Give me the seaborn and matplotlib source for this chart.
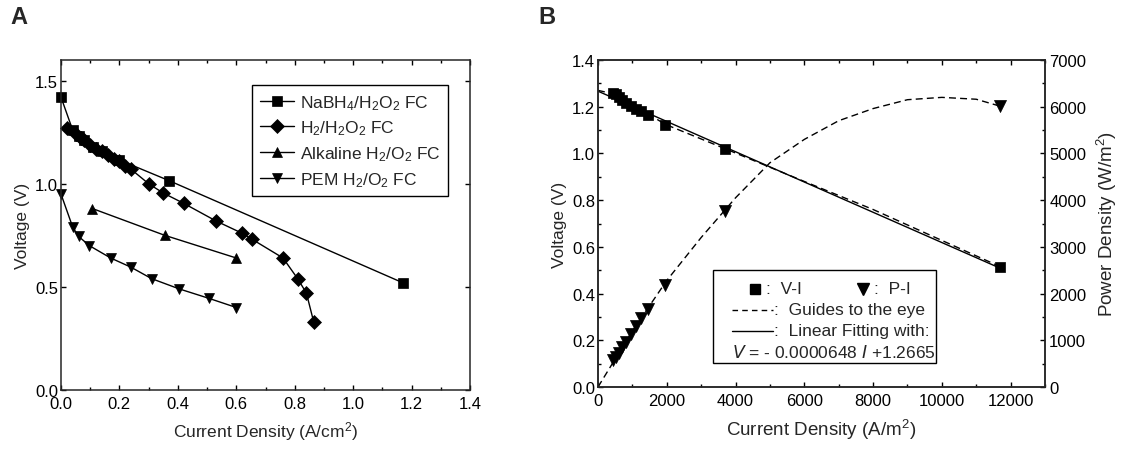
import numpy as np
import pandas as pd
import matplotlib
matplotlib.use("Agg")
import matplotlib.pyplot as plt
from matplotlib.ticker import MultipleLocator
from matplotlib.patches import Rectangle
from matplotlib.lines import Line2D
import seaborn as sns

# Panel A : courbes V-I pour 4 piles
nabh4_x = [0.0, 0.04, 0.06, 0.08, 0.11, 0.14, 0.20, 0.37, 1.17]
nabh4_v = [1.42, 1.26, 1.23, 1.21, 1.18, 1.16, 1.115, 1.015, 0.52]

h2_x = [0.02, 0.05, 0.07, 0.08, 0.10, 0.12, 0.14, 0.16, 0.18, 0.20, 0.22, 0.24,
        0.30, 0.35, 0.42, 0.53, 0.62, 0.655, 0.76, 0.81, 0.84, 0.865]
h2_v = [1.27, 1.24, 1.22, 1.21, 1.19, 1.17, 1.16, 1.14, 1.12, 1.11, 1.085, 1.07,
        1.0, 0.955, 0.905, 0.82, 0.76, 0.73, 0.64, 0.54, 0.47, 0.33]

alk_x = [0.107, 0.355, 0.60]
alk_v = [0.88, 0.75, 0.64]

pem_x = [0.0, 0.04, 0.06, 0.097, 0.17, 0.24, 0.31, 0.405, 0.505, 0.60]
pem_v = [0.95, 0.79, 0.745, 0.70, 0.64, 0.595, 0.54, 0.49, 0.445, 0.40]

labels_a = ["NaBH$_4$/H$_2$O$_2$ FC", "H$_2$/H$_2$O$_2$ FC",
            "Alkaline H$_2$/O$_2$ FC", "PEM H$_2$/O$_2$ FC"]

# Panel B : NaBH4/H2O2, V-I et P-I
vi_i = [450, 520, 600, 700, 800, 950, 1100, 1250, 1450, 1950, 3700, 11700]
vi_v = [1.26, 1.255, 1.24, 1.23, 1.215, 1.205, 1.19, 1.18, 1.165, 1.12, 1.02, 0.515]
pi_p = [570, 650, 730, 860, 970, 1140, 1300, 1470, 1680, 2180, 3770, 6010]

# guides
guide_v_i = [0, 450, 800, 1450, 1950, 3700, 6000, 8000, 11700]
guide_v_v = [1.27, 1.255, 1.22, 1.17, 1.125, 1.02, 0.88, 0.76, 0.515]
guide_p_i = [0, 1000, 2000, 3000, 4000, 5000, 6000, 7000, 8000, 9000, 10000, 11000, 11700]
guide_p_p = [0, 1200, 2280, 3200, 4050, 4800, 5300, 5700, 5960, 6150, 6200, 6160, 6010]

fit_i = [0, 11700]
fit_v = [1.2665, 0.5083]

sns.set_style("ticks")
plt.rcParams["font.family"] = ["Liberation Sans", "DejaVu Sans"]
plt.rcParams["mathtext.default"] = "regular"
plt.rcParams["font.size"] = 12
plt.rcParams["axes.linewidth"] = 1.1
for a in ["x", "y"]:
    plt.rcParams[f"{a}tick.direction"] = "in"
    plt.rcParams[f"{a}tick.major.size"] = 3.5
    plt.rcParams[f"{a}tick.minor.size"] = 2
    plt.rcParams[f"{a}tick.major.width"] = 1
    plt.rcParams[f"{a}tick.minor.width"] = 1
    plt.rcParams[f"{a}tick.color"] = "black"
    plt.rcParams[f"{a}tick.labelsize"] = 12

fig = plt.figure(figsize=(11.27, 4.52), dpi=100)
W, H = 1127, 452
ax1 = fig.add_axes([61 / W, 1 - 391 / H, 409 / W, 330 / H])
ax2 = fig.add_axes([598 / W, 1 - 388 / H, 447 / W, 327 / H])

# ---- Panel A
series_a = [(nabh4_x, nabh4_v, "s"), (h2_x, h2_v, "D"), (alk_x, alk_v, "^"), (pem_x, pem_v, "v")]
for (xs, vs, mk), lab in zip(series_a, labels_a):
    df = pd.DataFrame({"x": xs, "v": vs})
    ms = 7.5 if mk != "D" else 7
    sns.lineplot(data=df, x="x", y="v", ax=ax1, color="black", marker=mk, markersize=ms,
                 markeredgecolor="black", markeredgewidth=0.5, linewidth=1.0,
                 sort=False, estimator=None, label=lab, clip_on=False)

ax1.set_xlim(0, 1.4)
ax1.set_ylim(0, 1.6)
ax1.xaxis.set_major_locator(MultipleLocator(0.2))
ax1.xaxis.set_minor_locator(MultipleLocator(0.1))
ax1.yaxis.set_major_locator(MultipleLocator(0.5))
ax1.xaxis.set_major_formatter(matplotlib.ticker.FormatStrFormatter("%.1f"))
ax1.yaxis.set_major_formatter(matplotlib.ticker.FormatStrFormatter("%.1f"))
ax1.tick_params(which="both", top=True, right=True)
ax1.tick_params(axis="x", pad=4)
ax1.tick_params(axis="y", pad=2)
ax1.set_xlabel("Current Density (A/cm$^2$)", labelpad=6, fontsize=12.5)
ax1.set_ylabel("Voltage (V)", labelpad=4, fontsize=12.5)
leg = ax1.legend(loc="upper right", bbox_to_anchor=(0.946, 0.924), borderaxespad=0,
                 fancybox=False, edgecolor="black", framealpha=1, handlelength=2.0,
                 handletextpad=0.3, labelspacing=0.4, borderpad=0.45, fontsize=12.5)
leg.get_frame().set_linewidth(1.0)

# ---- Panel B
ax2b = ax2.twinx()
df_vi = pd.DataFrame({"i": vi_i, "v": vi_v, "p": pi_p})
sns.lineplot(x=guide_v_i, y=guide_v_v, ax=ax2, color="black", linestyle=(0, (5, 3)),
             linewidth=1.0, sort=False, estimator=None)
sns.lineplot(x=fit_i, y=fit_v, ax=ax2, color="black", linewidth=1.0, sort=False, estimator=None)
sns.scatterplot(data=df_vi, x="i", y="v", ax=ax2, color="black", marker="s", s=60,
                edgecolor="black", linewidth=0.5, zorder=3)
sns.lineplot(x=guide_p_i, y=guide_p_p, ax=ax2b, color="black", linestyle=(0, (5, 3)),
             linewidth=1.0, sort=False, estimator=None)
sns.scatterplot(data=df_vi, x="i", y="p", ax=ax2b, color="black", marker="v", s=75,
                edgecolor="black", linewidth=0.5, zorder=3)

ax2.set_xlim(0, 13000)
ax2.set_ylim(0, 1.4)
ax2b.set_ylim(0, 7000)
ax2.xaxis.set_major_locator(MultipleLocator(2000))
ax2.xaxis.set_minor_locator(MultipleLocator(1000))
ax2.yaxis.set_major_locator(MultipleLocator(0.2))
ax2.yaxis.set_minor_locator(MultipleLocator(0.1))
ax2b.yaxis.set_major_locator(MultipleLocator(1000))
ax2b.yaxis.set_minor_locator(MultipleLocator(500))
ax2.yaxis.set_major_formatter(matplotlib.ticker.FormatStrFormatter("%.1f"))
ax2.tick_params(which="both", top=True, right=False)
ax2.tick_params(axis="x", pad=4)
ax2.tick_params(axis="y", pad=2)
ax2b.tick_params(which="both", pad=3)
ax2.set_xlabel("Current Density (A/m$^2$)", labelpad=7, fontsize=13.5)
ax2.set_ylabel("Voltage (V)", labelpad=4, fontsize=12.5)
ax2b.set_ylabel("Power Density (W/m$^2$)", labelpad=6, fontsize=13.5)
for s in ax2b.spines.values():
    s.set_linewidth(1.1)

# légende dessinée à la main
T = ax2.transAxes
ax2.add_patch(Rectangle((0.257, 0.074), 0.499, 0.285, transform=T, facecolor="white",
                        edgecolor="black", linewidth=1.0, zorder=5))
ax2.add_line(Line2D([0.351], [0.30], transform=T, marker="s", markersize=7.5, color="black",
                    linestyle="none", zorder=6))
ax2.text(0.375, 0.30, ":  V-I", transform=T, va="center", zorder=6, fontsize=12.5)
ax2.add_line(Line2D([0.593], [0.30], transform=T, marker="v", markersize=8.5, color="black",
                    linestyle="none", zorder=6))
ax2.text(0.617, 0.30, ":  P-I", transform=T, va="center", zorder=6, fontsize=12.5)
ax2.add_line(Line2D([0.300, 0.392], [0.236, 0.236], transform=T, color="black",
                    linestyle=(0, (4, 3)), linewidth=1.0, zorder=6))
ax2.text(0.394, 0.236, ":  Guides to the eye", transform=T, va="center", zorder=6, fontsize=12.5)
ax2.add_line(Line2D([0.300, 0.392], [0.172, 0.172], transform=T, color="black",
                    linewidth=1.0, zorder=6))
ax2.text(0.394, 0.172, ":  Linear Fitting with:", transform=T, va="center", zorder=6, fontsize=12.5)
ax2.text(0.300, 0.110, "$\\it{V}$ = - 0.0000648 $\\it{I}$ +1.2665", transform=T, va="center",
         zorder=6, fontsize=12.5)

fig.text(10 / W, 1 - 6 / H, "A", fontsize=17, fontweight="bold", va="top", ha="left")
fig.text(538 / W, 1 - 6 / H, "B", fontsize=17, fontweight="bold", va="top", ha="left")

fig.savefig("out.png", dpi=100)
